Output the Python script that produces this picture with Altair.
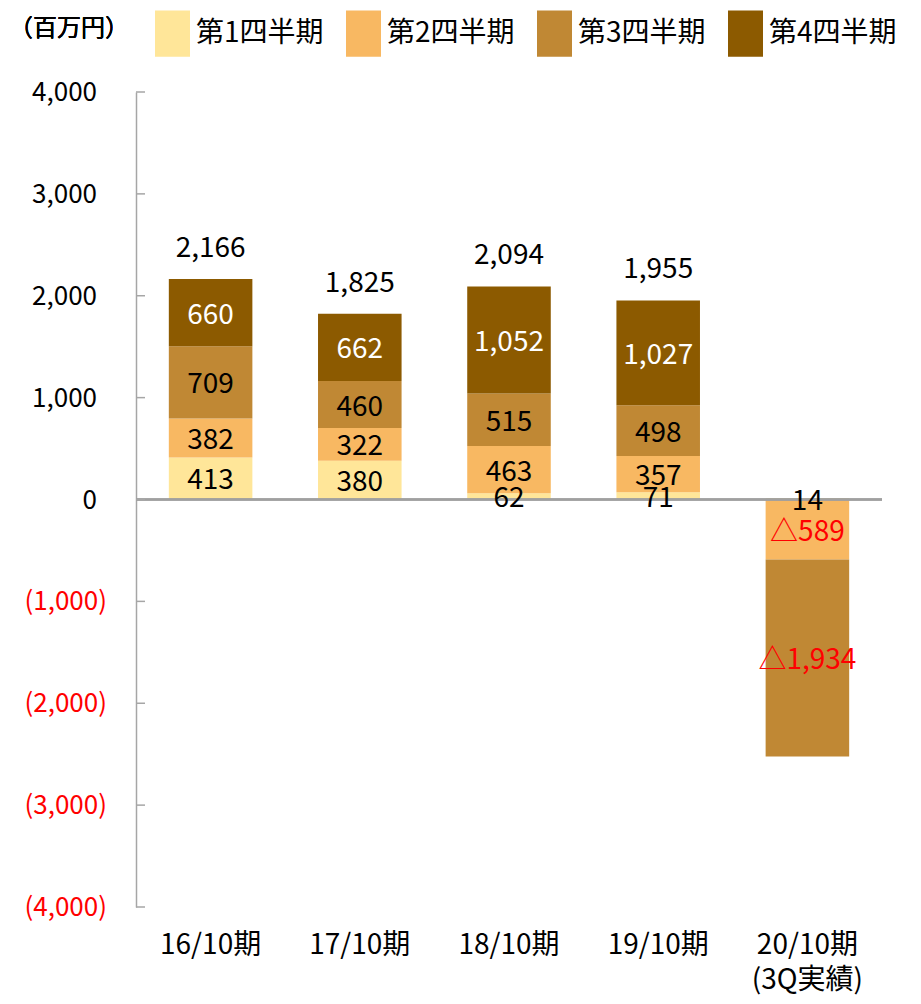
import altair as alt
import pandas as pd

periods = ["16/10期", "17/10期", "18/10期", "19/10期", "20/10期"]
quarters = ["第1四半期", "第2四半期", "第3四半期", "第4四半期"]
q1 = [413, 380, 62, 71, 14]
q2 = [382, 322, 463, 357, -589]
q3 = [709, 460, 515, 498, -1934]
q4 = [660, 662, 1052, 1027, None]
totals = [2166, 1825, 2094, 1955]
total_periods = ["16/10期", "17/10期", "18/10期", "19/10期"]
y_ticks = [-4000, -3000, -2000, -1000, 0, 1000, 2000, 3000, 4000]
colors = ["#FFE699", "#F8B862", "#C08834", "#8C5A00"]

rows = []
for qi, (qname, vals) in enumerate(zip(quarters, [q1, q2, q3, q4])):
    for p, v in zip(periods, vals):
        if v is None:
            continue
        lbl = f"{v:,}" if v >= 0 else "△" + f"{-v:,}"
        if v < 0:
            lc = "#FF0000"
        elif qi == 3:
            lc = "#FFFFFF"
        else:
            lc = "#000000"
        rows.append({"period": p, "q": qname, "qi": qi, "v": v, "label": lbl, "lc": lc})
df = pd.DataFrame(rows)
tot_df = pd.DataFrame({"period": total_periods, "total": totals,
                       "label": [f"{t:,}" for t in totals]})
tick_df = pd.DataFrame({"t": y_ticks,
                        "lab": [f"({-t:,})" if t < 0 else f"{t:,}" for t in y_ticks]})

W, H = 746, 815
FONT = "Noto Sans CJK JP"

xenc = alt.X("period:N", sort=periods,
             scale=alt.Scale(paddingInner=0.44, paddingOuter=0.22),
             axis=alt.Axis(title=None, domain=False, ticks=False, labelAngle=0,
                           labelFontSize=28, labelColor="#000000", labelPadding=24,
                           labelLineHeight=35, labelFont=FONT,
                           labelExpr="datum.value == '20/10期' ? ['20/10期', '(3Q実績)'] : datum.value"))
yscale = alt.Scale(domain=[-4000, 4000], nice=False)
yaxis = alt.Axis(title=None, values=y_ticks, grid=False, ticks=False, tickSize=0,
                 domainColor="#A6A6A6", domainWidth=1.5, labels=False)

base = alt.Chart(df)

bars = base.mark_bar().encode(
    x=xenc,
    y=alt.Y("v:Q", stack="zero", scale=yscale, axis=yaxis),
    color=alt.Color("q:N", sort=quarters,
                    scale=alt.Scale(domain=quarters, range=colors),
                    legend=alt.Legend(title=None, orient="none", direction="horizontal",
                                      legendX=19, legendY=-76, columns=4,
                                      symbolType="M-1,-1.32H1V1.32H-1Z",
                                      symbolSize=1225, symbolStrokeWidth=0,
                                      labelFontSize=28, labelFont=FONT, labelColor="#000000",
                                      labelOffset=6, columnPadding=22, padding=0,
                                      labelLimit=300)),
    order=alt.Order("qi:Q", sort="ascending"),
)

zero = alt.Chart(tick_df).mark_rule(color="#A0A0A0", strokeWidth=1.5).encode(
    y=alt.datum(0), x=alt.value(0), x2=alt.value(W))

ticks = alt.Chart(tick_df).mark_rule(color="#A6A6A6", strokeWidth=1.5).encode(
    y=alt.Y("t:Q", scale=yscale), x=alt.value(0), x2=alt.value(9))

pos_labels = alt.Chart(tick_df).transform_filter("datum.t >= 0").mark_text(
    fontSize=26, font=FONT, align="right", baseline="middle", color="#000000", dy=1
).encode(y=alt.Y("t:Q", scale=yscale), x=alt.value(-39), text="lab:N")

neg_labels = alt.Chart(tick_df).transform_filter("datum.t < 0").mark_text(
    fontSize=26, font=FONT, align="right", baseline="middle", color="#FF0000", dy=1
).encode(y=alt.Y("t:Q", scale=yscale), x=alt.value(-29), text="lab:N")

labels = base.transform_stack(
    stack="v", groupby=["period"], sort=[alt.SortField("qi", order="ascending")], as_=["v0", "v1"]
).transform_calculate(mid="(datum.v0 + datum.v1) / 2").mark_text(
    fontSize=28, font=FONT, baseline="middle", align="center", dy=3
).encode(
    x=alt.X("period:N", sort=periods),
    y=alt.Y("mid:Q", scale=yscale),
    text="label:N",
    fill=alt.Fill("lc:N", scale=None),
)

tot = alt.Chart(tot_df).mark_text(fontSize=28, font=FONT, baseline="middle",
                                  align="center", dy=-30, color="#000000").encode(
    x=alt.X("period:N", sort=periods),
    y=alt.Y("total:Q", scale=yscale),
    text="label:N",
)

unit = alt.Chart(tot_df).mark_text(fontSize=24, font=FONT, align="left", baseline="middle",
                                   color="#000000").encode(
    x=alt.value(-127), y=alt.value(-63), text=alt.value("（百万円）"))

chart = alt.layer(bars, zero, labels, tot, ticks, pos_labels, neg_labels, unit).properties(
    width=W, height=H,
    autosize=alt.AutoSizeParams(type="none"),
    padding={"left": 128, "top": 84, "right": 25, "bottom": 95},
).configure(font=FONT).configure_view(stroke=None, strokeWidth=0)

chart.save("out.html", embed_options={"renderer": "svg", "actions": False})
